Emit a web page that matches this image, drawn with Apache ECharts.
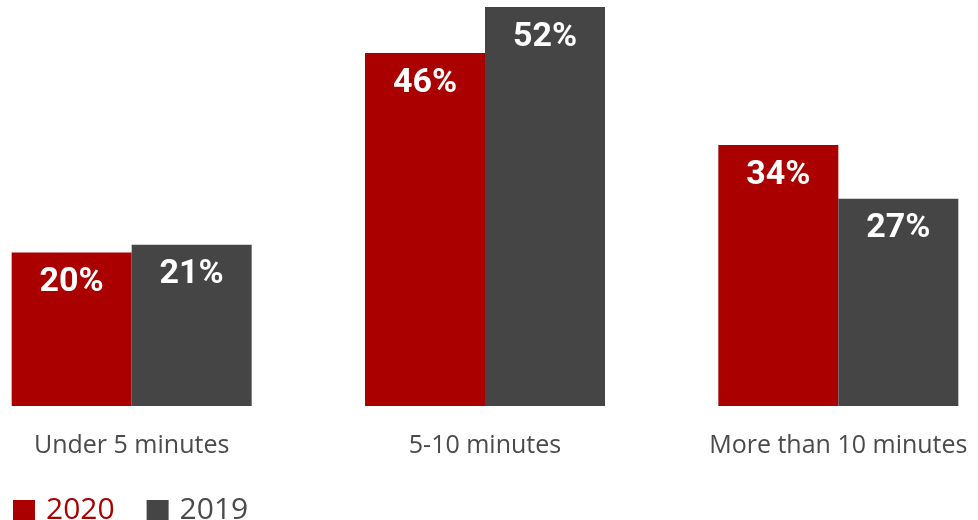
<!DOCTYPE html>
<html>
<head>
<meta charset="utf-8">
<script src="https://cdn.jsdelivr.net/npm/echarts@6/dist/echarts.min.js"></script>
<style>
html,body{margin:0;padding:0;background:#fff;}
#main{width:978px;height:520px;}
</style>
</head>
<body>
<div id="main"></div>
<script>
var categories = ['Under 5 minutes', '5-10 minutes', 'More than 10 minutes'];
var seriesNames = ['2020', '2019'];
var values2020 = [20, 46, 34];
var values2019 = [21, 52, 27];

var colors = ['#AA0000', '#454545'];

var chart = echarts.init(document.getElementById('main'));
var labelStyle = {
  show: true,
  position: 'insideTop',
  distance: 13,
  color: '#ffffff',
  fontFamily: 'Roboto',
  fontWeight: 'bold',
  fontSize: 34,
  formatter: function (p) { return p.value + '%'; }
};
chart.setOption({
  animation: false,
  backgroundColor: '#ffffff',
  grid: {
    left: -45,
    right: -37,
    top: 7,
    bottom: 114,
    outerBoundsMode: 'none',
    containLabel: false
  },
  legend: {
    left: 13,
    top: 495,
    padding: 0,
    icon: 'rect',
    itemWidth: 22,
    itemHeight: 20,
    itemGap: 32,
    selectedMode: false,
    textStyle: {
      fontFamily: 'Open Sans',
      fontSize: 30,
      padding: [0, 0, 0, 6]
    },
    data: [
      { name: seriesNames[0], textStyle: { color: colors[0] } },
      { name: seriesNames[1], textStyle: { color: '#4a4a4a' } }
    ]
  },
  xAxis: {
    type: 'category',
    data: categories,
    axisLine: { show: false },
    axisTick: { show: false },
    axisLabel: {
      margin: 27,
      color: '#4a4a4a',
      fontFamily: 'Open Sans',
      fontSize: 25,
      interval: 0
    }
  },
  yAxis: {
    type: 'value',
    min: 0,
    max: 52,
    show: false,
    splitLine: { show: false }
  },
  series: [
    {
      name: seriesNames[0],
      type: 'bar',
      data: values2020,
      barWidth: 120,
      barGap: '0%',
      itemStyle: { color: colors[0] },
      label: labelStyle
    },
    {
      name: seriesNames[1],
      type: 'bar',
      data: values2019,
      barWidth: 120,
      barGap: '0%',
      itemStyle: { color: colors[1] },
      label: labelStyle
    }
  ]
});
</script>
</body>
</html>
